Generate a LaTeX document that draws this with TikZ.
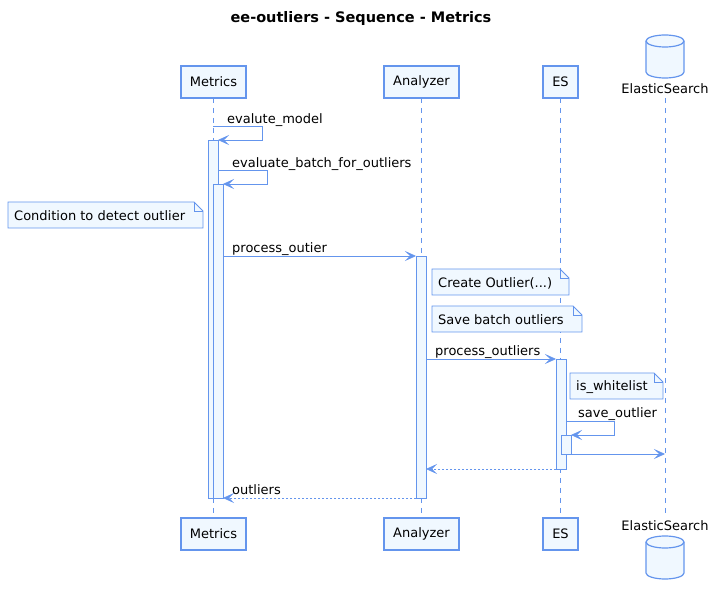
\documentclass[tikz,border=0pt]{standalone}
\usepackage{fontspec}
\setmainfont{DejaVu Sans}
\usetikzlibrary{arrows.meta}

\definecolor{lineblue}{RGB}{100,149,237}
\definecolor{boxfill}{RGB}{240,248,255}

% note with folded corner: name, left, top, width, text
\newcommand{\notebox}[5]{%
  \path[draw,lineblue,line width=0.9pt,fill=boxfill] (#2,#3) -- (#2+#4-9,#3) -- (#2+#4,#3+9) -- (#2+#4,#3+26) -- (#2,#3+26) -- cycle;
  \path[draw,lineblue,line width=0.9pt] (#2+#4-9,#3) -- (#2+#4-9,#3+9) -- (#2+#4,#3+9);
  \node[anchor=west,inner sep=0pt] (#1) at (#2+6,#3+14) {#5};}

% database cylinder: centre x, top y
\newcommand{\dbcyl}[2]{%
  \path[draw,lineblue,line width=1.2pt,fill=boxfill] (#1-19,#2+6) -- (#1-19,#2+37) arc(180:0:19 and 6) -- (#1+19,#2+6) arc(0:-180:19 and 6) -- cycle;
  \path[draw,lineblue,line width=1.2pt] (#1-19,#2+6) arc(180:0:19 and 6);}

\begin{document}
\begin{tikzpicture}[x=1pt,y=-1pt,font=\fontsize{13}{15}\selectfont,
  participant/.style={draw=lineblue,line width=1.2pt,fill=boxfill,minimum height=32pt,inner sep=0pt,outer sep=0pt},
  lifeline/.style={draw=lineblue,line width=0.8pt,dash pattern=on 5pt off 5pt},
  actbar/.style={draw=lineblue,line width=0.9pt,fill=boxfill,minimum width=10pt,inner sep=0pt,outer sep=0pt},
  msg/.style={draw=lineblue,line width=0.8pt,-{Stealth[length=11pt,width=10pt,inset=5pt]}},
  ret/.style={msg,dash pattern=on 2pt off 2pt},
  msglabel/.style={anchor=base west,inner sep=0pt}]
\useasboundingbox (0,0) rectangle (721,593);

\node[font=\fontsize{14.5}{17}\selectfont\bfseries] (title) at (361,19) {ee-outliers - Sequence - Metrics};

% participants
\node[participant,minimum width=65pt] (metrics) at (213.5,82) {Metrics};
\node[participant,minimum width=75pt] (analyzer) at (421.5,82) {Analyzer};
\node[participant,minimum width=35pt] (es) at (560.5,82) {ES};
\dbcyl{665}{35}
\node[inner sep=0pt] (esdb) at (665,89) {ElasticSearch};

\node[participant,minimum width=65pt] (metricsB) at (213.5,534) {Metrics};
\node[participant,minimum width=75pt] (analyzerB) at (421.5,534) {Analyzer};
\node[participant,minimum width=35pt] (esB) at (560.5,534) {ES};
\dbcyl{665}{536}
\node[inner sep=0pt] (esdbB) at (665,526) {ElasticSearch};

\path[lifeline] (metrics.south) -- (metricsB.north);
\path[lifeline] (analyzer.south) -- (analyzerB.north);
\path[lifeline] (es.south) -- (esB.north);
\path[lifeline] ([yshift=-4pt]esdb.south) -- ([yshift=4pt]esdbB.north);

% activations
\node[actbar,minimum height=358pt] (actM1) at (213,319) {};
\node[actbar,minimum height=314pt] (actM2) at (218,341) {};
\node[actbar,minimum height=242pt] (actA) at (421,377) {};
\node[actbar,minimum height=110pt] (actE) at (561,414) {};
\node[actbar,minimum height=19pt] (actE2) at (566,444.5) {};

% notes
\notebox{cond}{8}{202}{195}{Condition to detect outlier}
\notebox{create}{432}{269}{137}{Create Outlier(...)}
\notebox{save}{432}{306}{150}{Save batch outliers}
\notebox{white}{570}{373}{93}{is\_whitelist}

% messages
\coordinate (m1) at (213,126);
\coordinate (m2) at (218,170);
\coordinate (m3) at (223,256);
\coordinate (m4) at (426,359);
\coordinate (m5) at (566,421);
\coordinate (m6) at (665,454);

\path[msg] (m1) -- ++(49,0) -- ++(0,14) -- (actM1.north east);
\node[msglabel] (l1) at (227,123.5) {evalute\_model};
\path[msg] (m2) -- ++(49,0) -- ++(0,14) -- (actM2.north east);
\node[msglabel] (l2) at (232,167.5) {evaluate\_batch\_for\_outliers};
\path[msg] (m3) -- (actA.north west);
\node[msglabel] (l3) at (232,252.5) {process\_outier};
\path[msg] (m4) -- (actE.north west);
\node[msglabel] (l4) at (435,355.5) {process\_outliers};
\path[msg] (m5) -- ++(48,0) -- ++(0,14) -- (actE2.north east);
\node[msglabel] (l5) at (578,417.5) {save\_outlier};
\path[msg] (actE2.south east) -- (m6);
\path[ret] (actE.south west) -- (actE.south west -| actA.east);
\path[ret] (actA.south west) -- (actA.south west -| actM2.east);
\node[msglabel] (l6) at (232,494.5) {outliers};
\end{tikzpicture}
\end{document}
